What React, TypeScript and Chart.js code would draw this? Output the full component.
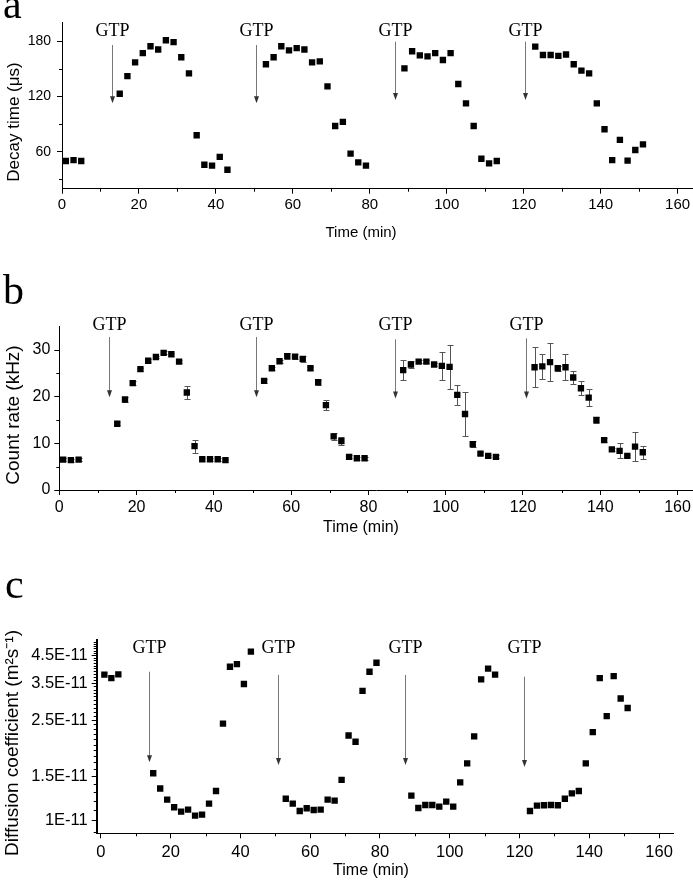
import React, { useEffect, useRef } from 'react';
import { Chart, registerables } from 'chart.js';
Chart.register(...registerables);

// ---------- data ----------
const timeMin = [
  1, 3, 5,
  15, 17, 19, 21, 23, 25, 27, 29, 31, 33, 35, 37, 39, 41, 43,
  53, 55, 57, 59, 61, 63, 65, 67, 69, 71, 73, 75, 77, 79,
  89, 91, 93, 95, 97, 99, 101, 103, 105, 107, 109, 111, 113,
  123, 125, 127, 129, 131, 133, 135, 137, 139, 141, 143, 145, 147, 149, 151,
];

const decayTime = [
  50, 51, 50,
  123, 142, 157, 167, 174.5, 171, 181, 179, 162.5, 145, 78, 46, 45, 54.5, 40.5,
  155, 162.5, 174.5, 170, 172.5, 171, 157, 158, 131, 88, 92.5, 58, 48.5, 45,
  150.5, 169, 164.5, 163.5, 167, 159.5, 167, 133.5, 112.5, 88, 52.5, 47.5, 50,
  174, 165, 165, 164, 165.5, 155, 148, 145, 112.5, 84.5, 51, 73, 50.5, 62, 68,
];

const countRate = [
  6.5, 6.4, 6.5,
  14.2, 19.4, 22.9, 25.9, 27.7, 28.5, 29.4, 29.1, 27.5, 20.9, 9.4, 6.6, 6.6, 6.6, 6.4,
  23.4, 26.1, 27.6, 28.7, 28.6, 28.1, 26.1, 23.1, 18.2, 11.5, 10.5, 7.1, 6.8, 6.8,
  25.7, 26.9, 27.5, 27.5, 26.9, 26.6, 26.4, 20.4, 16.3, 9.8, 7.8, 7.3, 7.1,
  26.3, 26.5, 27.4, 26.1, 26.3, 24.1, 21.8, 19.8, 15, 10.7, 8.7, 8.4, 7.3, 9.3, 8.1,
];

const countErr = [
  0.3, 0.3, 0.3,
  0.3, 0.5, 0.4, 0.3, 0.3, 0.3, 0.3, 0.3, 0.3, 1.4, 1.4, 0.3, 0.3, 0.3, 0.3,
  0.4, 0.3, 0.3, 0.7, 0.6, 0.6, 0.3, 0.5, 1.0, 0.7, 0.8, 0.3, 0.3, 0.3,
  2.1, 0.7, 0.3, 0.3, 0.3, 3.0, 4.7, 2.1, 4.8, 0.6, 0.3, 0.3, 0.3,
  4.3, 2.7, 4.1, 0.5, 2.8, 1.4, 1.5, 1.8, 0.7, 0.5, 0.3, 1.6, 0.3, 3.1, 1.4,
];

const diffusion = [
  3.78e-11, 3.66e-11, 3.79e-11,
  1.54e-11, 1.34e-11, 1.21e-11, 1.13e-11, 1.085e-11, 1.105e-11, 1.047e-11, 1.056e-11, 1.167e-11, 1.31e-11, 2.42e-11, 4.06e-11, 4.16e-11, 3.47e-11, 4.66e-11,
  1.22e-11, 1.167e-11, 1.092e-11, 1.119e-11, 1.102e-11, 1.105e-11, 1.21e-11, 1.2e-11, 1.45e-11, 2.17e-11, 2.05e-11, 3.26e-11, 3.88e-11, 4.21e-11,
  1.255e-11, 1.122e-11, 1.153e-11, 1.153e-11, 1.136e-11, 1.189e-11, 1.136e-11, 1.417e-11, 1.685e-11, 2.155e-11, 3.62e-11, 3.99e-11, 3.78e-11,
  1.092e-11, 1.146e-11, 1.15e-11, 1.153e-11, 1.15e-11, 1.22e-11, 1.282e-11, 1.31e-11, 1.685e-11, 2.24e-11, 3.66e-11, 2.59e-11, 3.73e-11, 3.04e-11, 2.79e-11,
];

// GTP arrows (x in min, y in data units)
const gtpTimeA = [12.9, 50.3, 86.5, 120.3];
const gtpTopA = [175.8, 175.8, 179.4, 179.4];
const gtpBottomA = [112.6, 112.6, 116.2, 116.2];
const gtpLabelYA = 191;

const gtpTimeB = [12.9, 50.9, 86.8, 120.9];
const gtpTopB = [32.8, 32.8, 32.3, 32.5];
const gtpBottomB = [19.9, 19.9, 19.6, 19.6];
const gtpLabelYB = 35.4;

const gtpTimeC = [13.8, 50.9, 87.1, 121.3];
const gtpTopC = [3.88e-11, 3.77e-11, 3.77e-11, 3.71e-11];
const gtpBottomC = [1.7e-11, 1.66e-11, 1.66e-11, 1.63e-11];
const gtpLabelYC = 4.8e-11;

// ticks
const xTicks = [0, 20, 40, 60, 80, 100, 120, 140, 160];
const xMinorTicks = [10, 30, 50, 70, 90, 110, 130, 150];
const yTicksA = [60, 120, 180];
const yMinorA = [30, 90, 150];
const yTicksB = [0, 10, 20, 30];
const yMinorB = [5, 15, 25];
const yTicksC = [1e-11, 1.5e-11, 2.5e-11, 3.5e-11, 4.5e-11];
const yTickLabelsC = ['1E-11', '1.5E-11', '2.5E-11', '3.5E-11', '4.5E-11'];
const yMinorC = [
  0.9e-11, 1.1e-11, 1.2e-11, 1.3e-11, 1.4e-11, 1.6e-11, 1.7e-11, 1.8e-11, 1.9e-11, 2.0e-11,
  2.1e-11, 2.2e-11, 2.3e-11, 2.4e-11, 2.6e-11, 2.7e-11, 2.8e-11, 2.9e-11, 3.0e-11, 3.1e-11,
  3.2e-11, 3.3e-11, 3.4e-11, 3.6e-11, 3.7e-11, 3.8e-11, 3.9e-11, 4.0e-11, 4.1e-11, 4.2e-11,
  4.3e-11, 4.4e-11, 4.6e-11, 4.7e-11, 4.8e-11, 4.9e-11, 5.0e-11, 5.1e-11,
];

const SANS = '"Liberation Sans", Arial, sans-serif';
const SERIF = '"Liberation Serif", "Times New Roman", serif';

// ---------- plugin ----------
const decorPlugin: any = {
  id: 'decor',
  beforeDatasetsDraw(chart: any, _a: any, opts: any) {
    const eb = opts.errorBars;
    if (!eb) return;
    const { ctx } = chart;
    const x = chart.scales.x;
    const y = chart.scales.y;
    ctx.save();
    ctx.strokeStyle = '#555';
    ctx.lineWidth = 1;
    for (let i = 0; i < eb.xs.length; i++) {
      const px = Math.round(x.getPixelForValue(eb.xs[i])) + 0.5;
      const t = Math.round(y.getPixelForValue(eb.ys[i] + eb.errs[i])) + 0.5;
      const b = Math.round(y.getPixelForValue(eb.ys[i] - eb.errs[i])) + 0.5;
      ctx.beginPath();
      ctx.moveTo(px, t); ctx.lineTo(px, b);
      ctx.moveTo(px - 3, t); ctx.lineTo(px + 3, t);
      ctx.moveTo(px - 3, b); ctx.lineTo(px + 3, b);
      ctx.stroke();
    }
    ctx.restore();
  },
  afterDraw(chart: any, _a: any, opts: any) {
    const { ctx, chartArea } = chart;
    const x = chart.scales.x;
    const y = chart.scales.y;
    ctx.save();
    // minor ticks
    ctx.strokeStyle = '#000';
    ctx.lineWidth = 1;
    ctx.beginPath();
    (opts.minorX || []).forEach((v: number) => {
      const px = Math.round(x.getPixelForValue(v)) + 0.5;
      ctx.moveTo(px, chartArea.bottom);
      ctx.lineTo(px, chartArea.bottom + 3);
    });
    (opts.minorY || []).forEach((v: number) => {
      const py = Math.round(y.getPixelForValue(v)) + 0.5;
      ctx.moveTo(chartArea.left, py);
      ctx.lineTo(chartArea.left - 3, py);
    });
    ctx.stroke();

    // GTP arrows
    const g = opts.gtp;
    if (g) {
      for (let i = 0; i < g.xs.length; i++) {
        const px = Math.round(x.getPixelForValue(g.xs[i])) + 0.5;
        const t = y.getPixelForValue(g.tops[i]);
        const b = y.getPixelForValue(g.bottoms[i]);
        ctx.strokeStyle = '#777';
        ctx.lineWidth = 1;
        ctx.beginPath();
        ctx.moveTo(px, t);
        ctx.lineTo(px, b - 3);
        ctx.stroke();
        ctx.fillStyle = '#333';
        ctx.beginPath();
        ctx.moveTo(px - 2.5, b - 7);
        ctx.lineTo(px + 2.5, b - 7);
        ctx.lineTo(px, b);
        ctx.closePath();
        ctx.fill();
        ctx.fillStyle = '#000';
        ctx.font = `18px ${SERIF}`;
        ctx.textAlign = 'center';
        ctx.textBaseline = 'middle';
        ctx.fillText('GTP', px, y.getPixelForValue(g.labelY));
      }
    }

    // titles
    ctx.fillStyle = '#000';
    const xt = opts.xTitle;
    if (xt) {
      ctx.font = `${xt.size}px ${SANS}`;
      ctx.textAlign = 'center';
      ctx.textBaseline = 'middle';
      ctx.fillText(xt.text, xt.x, xt.y);
    }
    const yt = opts.yTitle;
    if (yt) {
      ctx.save();
      ctx.translate(yt.x, yt.y);
      ctx.rotate(-Math.PI / 2);
      ctx.font = `${yt.size}px ${SANS}`;
      ctx.textAlign = 'center';
      ctx.textBaseline = 'middle';
      ctx.fillText(yt.text, 0, 0);
      ctx.restore();
    }
    const lt = opts.letter;
    if (lt) {
      ctx.font = `42px ${SERIF}`;
      ctx.textAlign = 'left';
      ctx.textBaseline = 'alphabetic';
      ctx.fillText(lt.text, lt.x, lt.y);
    }
    ctx.restore();
  },
};

function axisX(min: number, max: number, height: number, fontSize: number, pad: number) {
  return {
    type: 'linear',
    min,
    max,
    afterBuildTicks: (s: any) => { s.ticks = xTicks.map((v) => ({ value: v })); },
    afterFit: (s: any) => { s.height = height; s.paddingLeft = 0; s.paddingRight = 0; },
    grid: { display: true, drawOnChartArea: false, drawTicks: true, tickLength: 5, color: '#000', lineWidth: 1 },
    border: { display: true, color: '#000', width: 1 },
    ticks: { color: '#000', font: { family: SANS, size: fontSize }, padding: pad, maxRotation: 0, autoSkip: false },
    title: { display: false },
  };
}

function axisY(opts: any) {
  return {
    type: opts.type || 'linear',
    min: opts.min,
    max: opts.max,
    afterBuildTicks: (s: any) => { s.ticks = opts.ticks.map((v: number) => ({ value: v })); },
    afterFit: (s: any) => { s.width = opts.width; s.paddingTop = 0; s.paddingBottom = 0; },
    grid: { display: true, drawOnChartArea: false, drawTicks: true, tickLength: 5, color: '#000', lineWidth: 1 },
    border: { display: true, color: '#000', width: opts.borderWidth || 1 },
    ticks: {
      color: '#000',
      font: { family: SANS, size: opts.fontSize },
      padding: opts.pad,
      autoSkip: false,
      callback: opts.labels ? (_v: any, i: number) => opts.labels[i] : (v: any) => String(v),
    },
    title: { display: false },
  };
}

function scatterData(ys: number[]) {
  return {
    datasets: [{
      data: timeMin.map((t, i) => ({ x: t, y: ys[i] })),
      pointStyle: 'rect',
      pointRadius: 4.5,
      pointHoverRadius: 4.5,
      backgroundColor: '#000',
      borderColor: '#000',
      borderWidth: 0,
      showLine: false,
    }],
  };
}

const baseOptions = {
  responsive: false,
  animation: false,
  events: [],
};

function makeA() {
  return {
    type: 'scatter',
    data: scatterData(decayTime),
    options: {
      ...baseOptions,
      layout: { autoPadding: false, padding: { top: 22.7, right: 0, left: 0, bottom: 0 } },
      scales: {
        x: axisX(0, 164, 81.3, 15, 2),
        y: axisY({ min: 20, max: 200, ticks: yTicksA, width: 62, fontSize: 14, pad: 6 }),
      },
      plugins: {
        legend: { display: false },
        tooltip: { enabled: false },
        decor: {
          minorX: xMinorTicks,
          minorY: yMinorA,
          gtp: { xs: gtpTimeA, tops: gtpTopA, bottoms: gtpBottomA, labelY: gtpLabelYA },
          xTitle: { text: 'Time (min)', x: 361, y: 233, size: 15 },
          yTitle: { text: 'Decay time (\u03bcs)', x: 14.5, y: 122, size: 17 },
          letter: { text: 'a', x: 3, y: 18 },
        },
      },
    },
    plugins: [decorPlugin],
  };
}

function makeB() {
  return {
    type: 'scatter',
    data: scatterData(countRate),
    options: {
      ...baseOptions,
      layout: { autoPadding: false, padding: { top: 56.7, right: 0, left: 0, bottom: 0 } },
      scales: {
        x: axisX(0, 164, 70, 16, 3),
        y: axisY({ min: 0, max: 35, ticks: yTicksB, width: 59.3, fontSize: 16, pad: 4 }),
      },
      plugins: {
        legend: { display: false },
        tooltip: { enabled: false },
        decor: {
          minorX: xMinorTicks,
          minorY: yMinorB,
          errorBars: { xs: timeMin, ys: countRate, errs: countErr },
          gtp: { xs: gtpTimeB, tops: gtpTopB, bottoms: gtpBottomB, labelY: gtpLabelYB },
          xTitle: { text: 'Time (min)', x: 361, y: 258, size: 16 },
          yTitle: { text: 'Count rate (kHz)', x: 13.5, y: 145, size: 19 },
          letter: { text: 'b', x: 3, y: 33.5 },
        },
      },
    },
    plugins: [decorPlugin],
  };
}

function makeC() {
  return {
    type: 'scatter',
    data: scatterData(diffusion),
    options: {
      ...baseOptions,
      layout: { autoPadding: false, padding: { top: 80, right: 20, left: 0, bottom: 0 } },
      scales: {
        x: axisX(-1.2, 164, 48.7, 16.5, 4),
        y: axisY({
          type: 'logarithmic', min: 0.891e-11, max: 5.18e-11, ticks: yTicksC, labels: yTickLabelsC,
          width: 96.7, fontSize: 16.5, pad: 4, borderWidth: 2,
        }),
      },
      plugins: {
        legend: { display: false },
        tooltip: { enabled: false },
        decor: {
          minorX: xMinorTicks,
          minorY: yMinorC,
          gtp: { xs: gtpTimeC, tops: gtpTopC, bottoms: gtpBottomC, labelY: gtpLabelYC },
          xTitle: { text: 'Time (min)', x: 371, y: 311, size: 16 },
          yTitle: { text: 'Diffusion coefficient (m\u00b2s\u207b\u00b9)', x: 13, y: 183, size: 19 },
          letter: { text: 'c', x: 5, y: 38 },
        },
      },
    },
    plugins: [decorPlugin],
  };
}

function Panel({ top, height, make }: { top: number; height: number; make: () => any }) {
  const ref = useRef<HTMLCanvasElement>(null);
  useEffect(() => {
    const chart = new Chart(ref.current as HTMLCanvasElement, make() as any);
    return () => chart.destroy();
  }, []);
  return (
    <canvas
      ref={ref}
      width={693}
      height={height}
      style={{ position: 'absolute', left: 0, top, width: 693, height, display: 'block' }}
    />
  );
}

export default function App() {
  return (
    <div style={{ position: 'absolute', left: 0, top: 0, width: 693, height: 882, background: '#fff' }}>
      <Panel top={0} height={270} make={makeA} />
      <Panel top={270} height={290} make={makeB} />
      <Panel top={560} height={322} make={makeC} />
    </div>
  );
}
